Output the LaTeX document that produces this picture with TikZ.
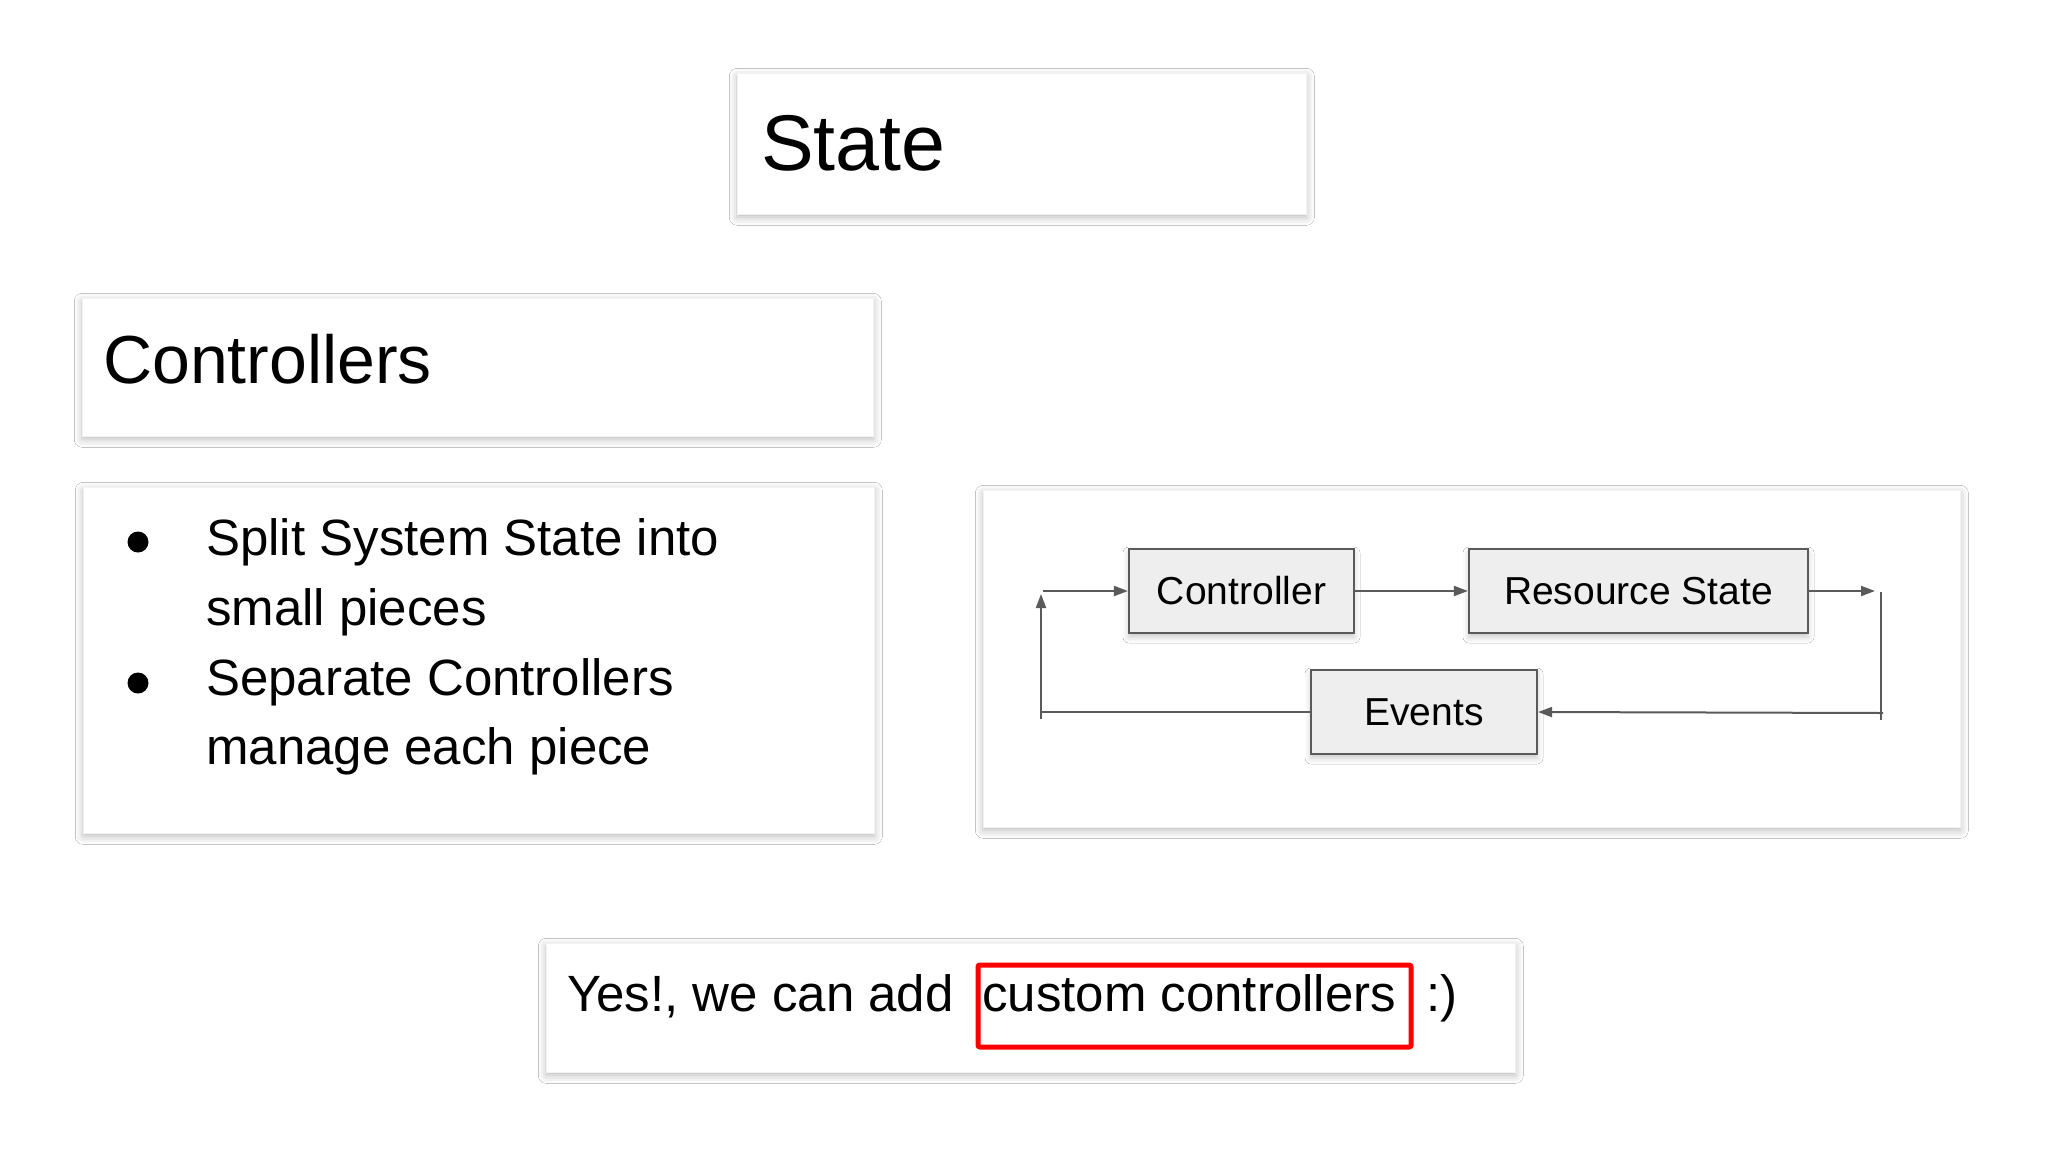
\documentclass[tikz,border=0pt]{standalone}
\usepackage{fontspec}
\setmainfont{Liberation Sans}
\usetikzlibrary{arrows.meta,shadows.blur}
\definecolor{linegray}{HTML}{5A5A5A}
\definecolor{nodefill}{HTML}{EEEEEE}
\definecolor{redmark}{HTML}{FF0000}
\tikzset{
  panel/.style={fill=white, draw=black!5, line width=0.6pt, anchor=north west, inner sep=0pt,
    blur shadow={shadow xshift=0pt, shadow yshift=-3pt, shadow blur radius=8pt, shadow opacity=28}},
  flowbox/.style={fill=nodefill, draw=linegray, line width=2.2pt, inner sep=0pt,
    font=\fontsize{39}{47}\selectfont,
    blur shadow={shadow xshift=0pt, shadow yshift=-4pt, shadow blur radius=6pt, shadow opacity=22}},
  flow/.style={draw=linegray, line width=2pt},
  flowarrow/.style={flow, -{Triangle[length=14pt,width=10pt]}},
  txt/.style={anchor=base west, inner sep=0pt, text=black},
  bigtitle/.style={txt, font=\fontsize{79}{95}\selectfont},
  midtitle/.style={txt, font=\fontsize{68}{82}\selectfont},
  bodytext/.style={txt, font=\fontsize{51}{61}\selectfont},
  bulletdot/.style={circle, fill=black, inner sep=0pt, minimum size=21pt},
}
\begin{document}
\begin{tikzpicture}[x=1pt, y=-1pt]
\useasboundingbox (0,0) rectangle (2048,1152);
\fill[white] (0,0) rectangle (2048,1152);

% panels
\node[panel, minimum width=569pt, minimum height=141pt] (statepanel) at (737,73) {};
\node[panel, minimum width=791pt, minimum height=138pt] (ctrlpanel) at (82,298) {};
\node[panel, minimum width=791pt, minimum height=346pt] (bulletpanel) at (83,487) {};
\node[panel, minimum width=977pt, minimum height=337pt] (diagpanel) at (983,490) {};
\node[panel, minimum width=969pt, minimum height=129pt] (bottompanel) at (546,943) {};

% titles
\node[bigtitle] (statetitle) at (761,170) {State};
\node[midtitle] (ctrltitle) at (103,383) {Controllers};

% bullets
\node[bulletdot] (dot1) at (138,542) {};
\node[bulletdot] (dot2) at (138,683) {};
\node[bodytext] (line1) at (206,555) {Split System State into};
\node[bodytext] (line2) at (206,625) {small pieces};
\node[bodytext] (line3) at (206,695) {Separate Controllers};
\node[bodytext] (line4) at (206,764) {manage each piece};

% flow diagram
\node[flowbox, minimum width=225pt, minimum height=84pt] (ctrl) at (1241.5,591) {Controller};
\node[flowbox, minimum width=339pt, minimum height=84pt] (rs) at (1638.5,591) {Resource State};
\node[flowbox, minimum width=226pt, minimum height=84pt] (events) at (1424,712) {Events};

\coordinate (rout) at (1875,591);
\coordinate (rtop) at (1881,592);
\coordinate (rbot) at (1881,720);
\coordinate (rret) at (1883,713);
\coordinate (lbot) at (1041,719);
\coordinate (ltop) at (1041,594);
\coordinate (lin) at (1043,591);

\draw[flowarrow] (ctrl.east) -- (rs.west);
\draw[flowarrow] (rs.east) -- (rout);
\draw[flow] (rtop) -- (rbot);
\draw[flowarrow] (rret) -- (events.east);
\draw[flow] (events.west) -- (events.west -| lbot);
\draw[flowarrow] (lbot) -- (ltop);
\draw[flowarrow] (lin) -- (ctrl.west);

% bottom line
\node[bodytext] (yes) at (567,1011) {Yes!, we can add};
\node[draw=redmark, line width=5pt, rounded corners=2pt, anchor=north west, inner sep=0pt,
      minimum width=433pt, minimum height=82pt] (redframe) at (975.5,962.5) {};
\node[bodytext] (custom) at (982,1011) {custom controllers};
\node[bodytext] (smile) at (1426,1011) {:)};
\end{tikzpicture}
\end{document}
